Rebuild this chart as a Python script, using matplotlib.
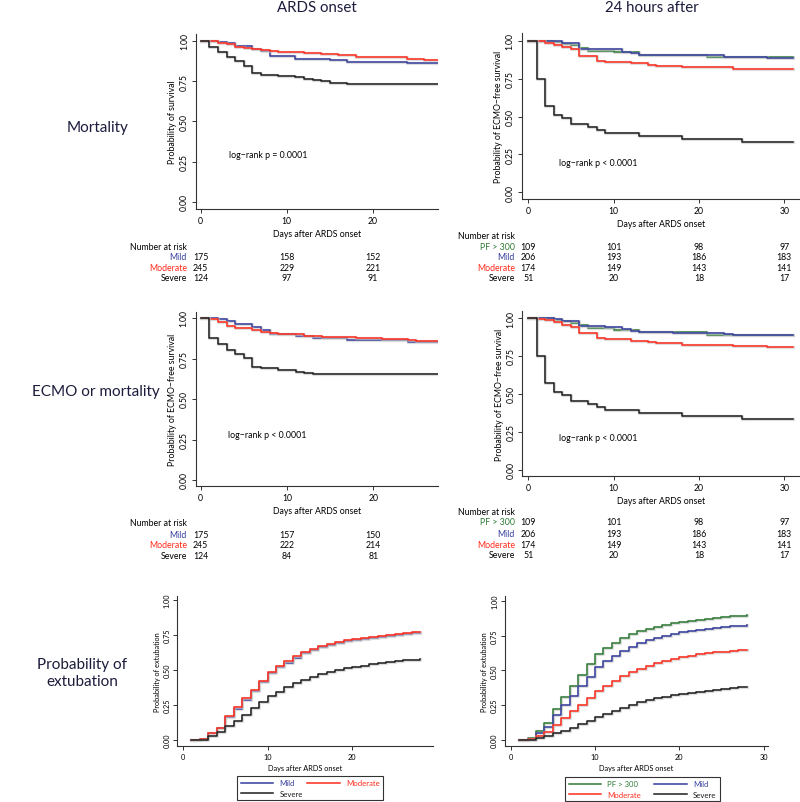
import matplotlib
matplotlib.use('Agg')
import matplotlib.pyplot as plt
from matplotlib import transforms
from matplotlib.lines import Line2D

# --- aspect ---
plt.rcParams['font.family'] = ['Lato', 'DejaVu Sans']
C_MILD = '#343d9c'
C_MOD = '#ff2b1c'
C_SEV = '#1e1e1e'
C_PF = '#2e7b36'
C_ROW = '#1c1c3c'
W, H = 800, 803

# --- data: mortality, ARDS onset (Kaplan-Meier) ---
mort_mild_t = [0, 2, 3, 4, 6, 7, 8, 11, 15, 17, 24, 28]
mort_mild_s = [1.0, 0.99, 0.983, 0.967, 0.95, 0.934, 0.905, 0.888, 0.88, 0.87, 0.86, 0.86]
mort_mod_t = [0, 1, 2, 3, 4, 5, 6, 7, 8, 9, 12, 14, 16, 18, 21, 24, 26, 28]
mort_mod_s = [1.0, 0.996, 0.988, 0.979, 0.963, 0.955, 0.95, 0.942, 0.938, 0.93, 0.926, 0.917,
              0.911, 0.90, 0.897, 0.888, 0.882, 0.882]
mort_sev_t = [0, 1, 2, 3, 4, 5, 6, 7, 9, 11, 12, 13, 14, 15, 17, 28]
mort_sev_s = [1.0, 0.963, 0.928, 0.897, 0.876, 0.845, 0.80, 0.789, 0.781, 0.773, 0.762, 0.756,
              0.748, 0.738, 0.731, 0.731]

# --- data: ECMO or mortality, ARDS onset ---
ecmo_mild_t = [0, 2, 3, 4, 6, 7, 8, 11, 13, 17, 24, 28]
ecmo_mild_s = [1.0, 0.994, 0.981, 0.965, 0.944, 0.924, 0.903, 0.887, 0.879, 0.862, 0.854, 0.854]
ecmo_mod_t = [0, 1, 2, 3, 4, 6, 7, 8, 9, 12, 14, 18, 21, 24, 25, 28]
ecmo_mod_s = [1.0, 0.992, 0.977, 0.953, 0.936, 0.924, 0.916, 0.907, 0.899, 0.891, 0.883, 0.874,
              0.87, 0.866, 0.858, 0.858]
ecmo_sev_t = [0, 1, 2, 3, 4, 5, 6, 7, 9, 11, 12, 13, 28]
ecmo_sev_s = [1.0, 0.879, 0.837, 0.802, 0.779, 0.751, 0.70, 0.689, 0.679, 0.669, 0.662, 0.656, 0.656]

# --- data: 24 hours after (same curves in both right panels) ---
h24_pf_t = [0, 3, 4, 5, 6, 7, 10, 13, 21, 31]
h24_pf_s = [1.0, 0.99, 0.978, 0.969, 0.952, 0.934, 0.923, 0.907, 0.89, 0.89]
h24_mild_t = [0, 3, 4, 6, 9, 11, 12, 13, 17, 23, 24, 28, 31]
h24_mild_s = [1.0, 0.996, 0.982, 0.947, 0.943, 0.925, 0.916, 0.907, 0.903, 0.894, 0.89, 0.888, 0.888]
h24_mod_t = [0, 1, 2, 3, 4, 5, 6, 8, 9, 12, 14, 15, 18, 24, 28, 31]
h24_mod_s = [1.0, 0.996, 0.987, 0.974, 0.956, 0.943, 0.901, 0.868, 0.859, 0.851, 0.842, 0.833,
             0.824, 0.815, 0.811, 0.811]
h24_sev_t = [0, 1, 2, 3, 4, 5, 7, 8, 9, 13, 18, 25, 31]
h24_sev_s = [1.0, 0.747, 0.571, 0.512, 0.49, 0.451, 0.433, 0.411, 0.393, 0.374, 0.352, 0.334, 0.334]

# --- data: probability of extubation (days 1..28) ---
ext_days = list(range(1, 29))
ext_on_mild = [0, 0.007, 0.048, 0.084, 0.163, 0.222, 0.288, 0.35, 0.414, 0.478, 0.52, 0.553,
               0.588, 0.62, 0.644, 0.664, 0.681, 0.693, 0.705, 0.716, 0.724, 0.731, 0.738,
               0.745, 0.751, 0.757, 0.762, 0.765]
ext_on_mod = [0, 0.009, 0.052, 0.088, 0.172, 0.234, 0.297, 0.36, 0.424, 0.488, 0.528, 0.562,
              0.597, 0.628, 0.652, 0.671, 0.688, 0.70, 0.712, 0.723, 0.731, 0.738, 0.745,
              0.752, 0.759, 0.765, 0.77, 0.775]
ext_on_sev = [0, 0.002, 0.026, 0.055, 0.102, 0.138, 0.181, 0.226, 0.269, 0.317, 0.345, 0.376,
              0.405, 0.429, 0.452, 0.471, 0.488, 0.502, 0.514, 0.524, 0.531, 0.54, 0.548,
              0.555, 0.562, 0.569, 0.574, 0.579]
ext_24_pf = [0, 0.012, 0.062, 0.122, 0.222, 0.309, 0.39, 0.467, 0.545, 0.615, 0.658, 0.694,
             0.73, 0.761, 0.782, 0.799, 0.813, 0.825, 0.837, 0.847, 0.856, 0.864, 0.871,
             0.878, 0.883, 0.888, 0.892, 0.895]
ext_24_mild = [0, 0.007, 0.048, 0.091, 0.182, 0.251, 0.318, 0.39, 0.455, 0.524, 0.567, 0.605,
               0.641, 0.67, 0.696, 0.715, 0.734, 0.749, 0.763, 0.773, 0.782, 0.792, 0.799,
               0.806, 0.811, 0.816, 0.821, 0.825]
ext_24_mod = [0, 0.005, 0.031, 0.06, 0.11, 0.156, 0.206, 0.251, 0.301, 0.354, 0.39, 0.426,
              0.459, 0.486, 0.51, 0.531, 0.55, 0.567, 0.581, 0.593, 0.605, 0.615, 0.622,
              0.629, 0.635, 0.641, 0.645, 0.648]
ext_24_sev = [0, 0.002, 0.012, 0.026, 0.048, 0.067, 0.089, 0.112, 0.139, 0.163, 0.189, 0.211,
              0.232, 0.251, 0.27, 0.285, 0.298, 0.311, 0.321, 0.331, 0.34, 0.348, 0.355,
              0.362, 0.368, 0.374, 0.379, 0.383]

# --- numbers at risk ---
risk_onset_days = [0, 10, 20]
risk_24_days = [0, 10, 20, 30]
mort_risk_mild = [175, 158, 152]
mort_risk_mod = [245, 229, 221]
mort_risk_sev = [124, 97, 91]
ecmo_risk_mild = [175, 157, 150]
ecmo_risk_mod = [245, 222, 214]
ecmo_risk_sev = [124, 84, 81]
h24_risk_pf = [109, 101, 98, 97]
h24_risk_mild = [206, 193, 186, 183]
h24_risk_mod = [174, 149, 143, 141]
h24_risk_sev = [51, 20, 18, 17]

y_ticks = [0, 0.25, 0.5, 0.75, 1.0]

fig = plt.figure(figsize=(8, 8.03), dpi=100)


def make_ax(l, t, r, b, x0, ppd, y1, y0, xticks, fs_tick, fs_lab, ylabel):
    ax = fig.add_axes([l / W, 1 - b / H, (r - l) / W, (b - t) / H])
    ax.set_xlim((l - x0) / ppd, (r - x0) / ppd)
    u = y0 - y1
    ax.set_ylim((y0 - b) / u, (y0 - t) / u)
    for s in ['top', 'right']:
        ax.spines[s].set_visible(False)
    for s in ['left', 'bottom']:
        ax.spines[s].set_linewidth(0.8)
        ax.spines[s].set_color('#333333')
    ax.set_xticks(xticks)
    ax.set_yticks(y_ticks)
    ax.set_yticklabels(['%.2f' % v for v in y_ticks], rotation=90, va='center')
    ax.tick_params(length=3, width=0.7, pad=2, labelsize=fs_tick, color='#333333')
    ax.set_xlabel('Days after ARDS onset', fontsize=fs_lab, labelpad=3)
    ax.set_ylabel(ylabel, fontsize=fs_lab, labelpad=2)
    return ax


def km(ax, t, s, c):
    ax.step(t, s, where='post', color='#c8c8c8', lw=2.3, alpha=0.6, clip_on=True)
    ax.step(t, s, where='post', color=c, lw=1.1, clip_on=True)


def risk_table(ax, days, rows, ys, lab_x, nar_y):
    tr = transforms.blended_transform_factory(ax.transData, fig.transFigure)
    fig.text(lab_x / W, 1 - nar_y / H, 'Number at risk', ha='right', va='center', fontsize=6.3)
    for (name, col, vals), py in zip(rows, ys):
        fig.text(lab_x / W, 1 - py / H, name, ha='right', va='center', fontsize=6.3, color=col)
        for d, v in zip(days, vals):
            ax.text(d, 1 - py / H, str(v), transform=tr, ha='center', va='center', fontsize=6.3)


# panel 1: mortality, onset
ax1 = make_ax(196, 35, 438, 210, 200.7, 8.6, 41.7, 203, [0, 10, 20], 6.2, 6.3,
              'Probability of survival')
km(ax1, mort_mild_t, mort_mild_s, C_MILD)
km(ax1, mort_mod_t, mort_mod_s, C_MOD)
km(ax1, mort_sev_t, mort_sev_s, C_SEV)
ax1.text(3.3, 0.293, 'log\u2212rank p = 0.0001', fontsize=6.3, va='center')
risk_table(ax1, risk_onset_days,
           [('Mild', C_MILD, mort_risk_mild), ('Moderate', C_MOD, mort_risk_mod),
            ('Severe', 'black', mort_risk_sev)],
           [257.7, 268.3, 278.3], 187, 247.3)

# panel 2: 24 hours after, top
ax2 = make_ax(521.7, 34.3, 800, 200, 528.3, 8.53, 41.7, 193.3, [0, 10, 20, 30], 6.2, 6.3,
              'Probability of ECMO\u2212free survival')
km(ax2, h24_pf_t, h24_pf_s, C_PF)
km(ax2, h24_mild_t, h24_mild_s, C_MILD)
km(ax2, h24_mod_t, h24_mod_s, C_MOD)
km(ax2, h24_sev_t, h24_sev_s, C_SEV)
ax2.text(3.6, 0.198, 'log\u2212rank p < 0.0001', fontsize=6.3, va='center')
risk_table(ax2, risk_24_days,
           [('PF > 300', C_PF, h24_risk_pf), ('Mild', C_MILD, h24_risk_mild),
            ('Moderate', C_MOD, h24_risk_mod), ('Severe', 'black', h24_risk_sev)],
           [247.3, 257.7, 268.3, 278.3], 515, 236.7)

# panel 3: ECMO or mortality, onset
ax3 = make_ax(195.7, 312.7, 438, 487.3, 200.7, 8.63, 319, 481, [0, 10, 20], 6.2, 6.3,
              'Probability of ECMO\u2212free survival')
km(ax3, ecmo_mild_t, ecmo_mild_s, C_MILD)
km(ax3, ecmo_mod_t, ecmo_mod_s, C_MOD)
km(ax3, ecmo_sev_t, ecmo_sev_s, C_SEV)
ax3.text(3.2, 0.278, 'log\u2212rank p < 0.0001', fontsize=6.3, va='center')
risk_table(ax3, risk_onset_days,
           [('Mild', C_MILD, ecmo_risk_mild), ('Moderate', C_MOD, ecmo_risk_mod),
            ('Severe', 'black', ecmo_risk_sev)],
           [535, 546, 556.7], 187, 524)

# panel 4: 24 hours after, middle
ax4 = make_ax(522.3, 312.3, 800, 477.3, 528.3, 8.53, 319, 470.7, [0, 10, 20, 30], 6.2, 6.3,
              'Probability of ECMO\u2212free survival')
km(ax4, h24_pf_t, h24_pf_s, C_PF)
km(ax4, h24_mild_t, h24_mild_s, C_MILD)
km(ax4, h24_mod_t, h24_mod_s, C_MOD)
km(ax4, h24_sev_t, h24_sev_s, C_SEV)
ax4.text(3.6, 0.214, 'log\u2212rank p < 0.0001', fontsize=6.3, va='center')
risk_table(ax4, risk_24_days,
           [('PF > 300', C_PF, h24_risk_pf), ('Mild', C_MILD, h24_risk_mild),
            ('Moderate', C_MOD, h24_risk_mod), ('Severe', 'black', h24_risk_sev)],
           [522.7, 534.3, 545, 556], 515, 512.7)

# panel 5: extubation, onset
ax5 = make_ax(177.3, 596.7, 433, 747.3, 182.7, 8.48, 601, 741, [0, 10, 20], 5.3, 5.3,
              'Probability of extubation')
km(ax5, ext_days, ext_on_mild, C_MILD)
km(ax5, ext_days, ext_on_mod, C_MOD)
km(ax5, ext_days, ext_on_sev, C_SEV)

# panel 6: extubation, 24 hours
ax6 = make_ax(505, 596.7, 768, 747.3, 510.7, 8.43, 601.7, 741, [0, 10, 20, 30], 5.3, 5.3,
              'Probability of extubation')
km(ax6, ext_days, ext_24_pf, C_PF)
km(ax6, ext_days, ext_24_mild, C_MILD)
km(ax6, ext_days, ext_24_mod, C_MOD)
km(ax6, ext_days, ext_24_sev, C_SEV)


def legend_box(ax, entries, l, t, r, b):
    handles = [Line2D([], [], color=c, lw=1.1) for _, c in entries]
    leg = ax.legend(handles, [n for n, _ in entries], ncol=2, loc='center', mode='expand',
                    bbox_to_anchor=(l / W, 1 - b / H, (r - l) / W, (b - t) / H),
                    bbox_transform=fig.transFigure, fontsize=5.6, frameon=True, fancybox=False,
                    edgecolor='black', handlelength=4.2, handletextpad=0.8, labelspacing=0.45,
                    borderpad=0.45, borderaxespad=0, columnspacing=1.0)
    leg.get_frame().set_linewidth(0.8)
    for txt, (_, c) in zip(leg.get_texts(), entries):
        txt.set_color(c)


legend_box(ax5, [('Mild', C_MILD), ('Severe', C_SEV), ('Moderate', C_MOD)],
           237.3, 776.7, 383.3, 801.7)
legend_box(ax6, [('PF > 300', C_PF), ('Moderate', C_MOD), ('Mild', C_MILD), ('Severe', C_SEV)],
           565, 777.3, 720, 802.7)

# column and row headings
fig.text(316.7 / W, 1 - 8 / H, 'ARDS onset', ha='center', va='center', fontsize=10.8, color=C_ROW)
fig.text(651.7 / W, 1 - 8 / H, '24 hours after', ha='center', va='center', fontsize=10.8,
         color=C_ROW)
fig.text(98 / W, 1 - 128.3 / H, 'Mortality', ha='center', va='center', fontsize=11, color=C_ROW)
fig.text(96 / W, 1 - 392 / H, 'ECMO or mortality', ha='center', va='center', fontsize=11,
         color=C_ROW)
fig.text(82 / W, 1 - 673.3 / H, 'Probability of\nextubation', ha='center', va='center',
         fontsize=11, color=C_ROW, linespacing=1.3)

fig.savefig('out.png', dpi=100, facecolor='white')
